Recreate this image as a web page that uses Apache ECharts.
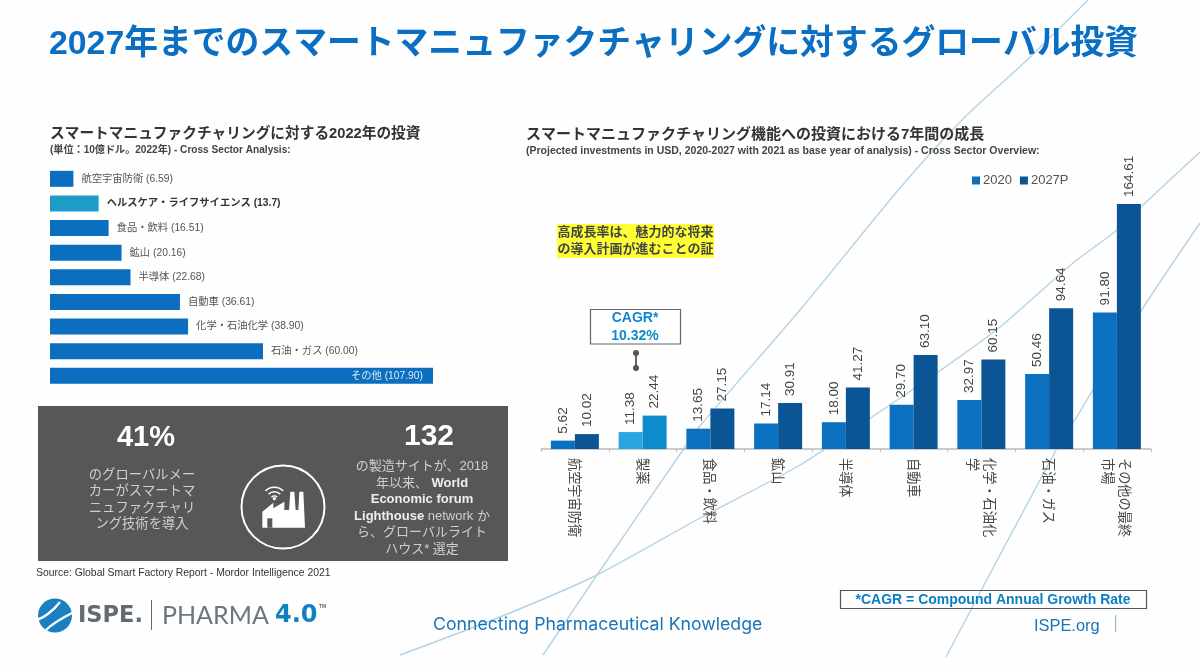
<!DOCTYPE html>
<html><head><meta charset="utf-8">
<style>html,body{margin:0;padding:0;background:#fefefe}#c{width:1200px;height:669px}</style>
<script src="https://cdn.jsdelivr.net/npm/echarts@6/dist/echarts.min.js"></script>
</head><body><div id="c"></div>
<script>
const leftCategories = ['航空宇宙防衛','ヘルスケア・ライフサイエンス','食品・飲料','鉱山','半導体','自動車','化学・石油化学','石油・ガス','その他'];
const leftValues = [6.59,13.7,16.51,20.16,22.68,36.61,38.90,60.00,107.90];
const leftValueText = ['6.59','13.7','16.51','20.16','22.68','36.61','38.90','60.00','107.90'];
const rightCategories = ['航空宇宙防衛','製薬','食品・飲料','鉱山','半導体','自動車','化学・石油化\n学','石油・ガス','その他の最終\n市場'];
const values2020 = [5.62,11.38,13.65,17.14,18.00,29.70,32.97,50.46,91.80];
const values2027 = [10.02,22.44,27.15,30.91,41.27,63.10,60.15,94.64,164.61];

const F = '"Liberation Sans","Noto Sans CJK JP",sans-serif';
const BLUE='#0b70bf', NAVY='#0b5595', TXT='#333333';
const t=(text,x,y,size,color,o={})=>({type:'text',z:o.z||10,style:{text,x,y,fill:color,
  font:(o.weight||'normal')+' '+size+'px '+(o.family||F),textAlign:o.align||'left',textVerticalAlign:'middle',
  lineHeight:o.lh,rich:o.rich}});
const line=(pts)=>({type:'polyline',z:-1,shape:{points:pts,smooth:0.25},style:{stroke:'#b4d4e6',lineWidth:1.4,fill:null}});
const fx=x=>255+x/3, fy=y=>480+y/3;
const wifi=[12,25,38].map(r=>({type:'arc',z:10,shape:{cx:fx(58),cy:fy(60),r:r/3,startAngle:-Math.PI*0.75,endAngle:-Math.PI*0.25},style:{stroke:'#fff',lineWidth:1.5,fill:null}}));
const rich132={n:{fill:'#cfcfcf',font:'13px '+F,lineHeight:16.6,align:'center'},b:{fill:'#eeeeee',font:'bold 13px '+F,lineHeight:16.6,align:'center'}};

const graphicEls=[
  line([[1088,0],[1027,60],[962,120],[900,188],[800,310],[699,427],[683,450],[597,575],[543,655]]),
  line([[400,655],[500,617],[597,575],[700,518],[800,465],[872,417],[941,370],[1000,327],[1073,263],[1117,230],[1143,205],[1200,152]]),
  line([[946,657],[1056,450],[1076,418],[1143,308],[1200,223]]),
  t('2027年までのスマートマニュファクチャリングに対するグローバル投資',49,45,33.8,'#0a6fc2',{weight:'bold'}),
  t('スマートマニュファクチャリングに対する2022年の投資',50,134,14.7,TXT,{weight:'bold'}),
  t('(単位：10億ドル。2022年) - Cross Sector Analysis:',50,150,10.1,'#444',{weight:'bold'}),
  t('スマートマニュファクチャリング機能への投資における7年間の成長',526,135,15,TXT,{weight:'bold'}),
  t('(Projected investments in USD, 2020-2027 with 2021 as base year of analysis) - Cross Sector Overview:',526,151,10.5,'#444',{weight:'bold'}),
  {type:'rect',z:1,shape:{x:38,y:406,width:470,height:155},style:{fill:'#575757'}},
  t('41%',146,438,29,'#ffffff',{weight:'bold',align:'center'}),
  t('のグローバルメー\nカーがスマートマ\nニュファクチャリ\nング技術を導入',142,500,13.3,'#cfcfcf',{align:'center',lh:16.5}),
  t('132',429,437,30,'#ffffff',{weight:'bold',align:'center'}),
  t('{n|の製造サイトが、2018}\n{n|年以来、}{b| World}\n{b|Economic forum}\n{b|Lighthouse}{n| network か}\n{n|ら、グローバルライト}\n{n|ハウス* 選定}',422,508,13,'#cfcfcf',{align:'center',rich:rich132}),
  {type:'circle',z:10,shape:{cx:283,cy:507,r:41.5},style:{stroke:'#fff',lineWidth:2,fill:null}},
  {type:'polygon',z:10,shape:{points:[[22,143],[22,95],[55,68],[55,85],[88,65],[88,90],[102,90],[106,35],[118,35],[122,90],[130,90],[133,35],[145,35],[150,143]].map(p=>[fx(p[0]),fy(p[1])])},style:{fill:'#fff'}},
  {type:'rect',z:11,shape:{x:fx(37),y:fy(115),width:5,height:9.4},style:{fill:'#575757'}},
  {type:'circle',z:10,shape:{cx:fx(58),cy:fy(56),r:1.6},style:{fill:'#fff'}},
  ...wifi,
  t('Source: Global Smart Factory Report - Mordor Intelligence 2021',36,573,10.4,TXT),
  {type:'circle',z:5,shape:{cx:55,cy:615.5,r:17},style:{fill:'#1a80c2'}},
  {type:'bezierCurve',z:6,shape:{x1:36,y1:620,x2:60,y2:602,cpx1:44,cpy1:618,cpx2:54,cpy2:610},style:{stroke:'#fefefe',lineWidth:2.4,fill:null}},
  {type:'bezierCurve',z:6,shape:{x1:46,y1:630,x2:74,y2:612,cpx1:52,cpy1:624,cpx2:64,cpy2:617},style:{stroke:'#fefefe',lineWidth:2.4,fill:null}},
  t('ISPE.',78,616,22.5,'#5f6b75',{weight:'bold',family:'"DejaVu Sans"'}),
  {type:'rect',z:6,shape:{x:151,y:600,width:1,height:30},style:{fill:'#5f6b75'}},
  t('PHARMA',162,616,25,'#6b7680',{family:'Lato,"Liberation Sans"'}),
  t('4.0',275,616,24,'#1180c2',{weight:'bold',family:'"DejaVu Sans"'}),
  t('TM',319,607,5,'#5f6b75',{weight:'bold'}),
  t('Connecting Pharmaceutical Knowledge',433,625,17.7,'#1a75b8',{family:'Inter,"Liberation Sans"'}),
  t('ISPE.org',1034,626,16.4,'#1a75b8'),
  {type:'rect',z:6,shape:{x:1115,y:615,width:1.2,height:17},style:{fill:'#8cc0e0'}},
  {type:'rect',z:6,shape:{x:840.5,y:590.5,width:306,height:18},style:{stroke:'#555',lineWidth:1.2,fill:null}},
  t('*CAGR = Compound Annual Growth Rate',993,600,14,'#0a7fc4',{weight:'bold',align:'center'}),
  {type:'rect',z:6,shape:{x:557,y:224,width:157,height:34},style:{fill:'#ffff33'}},
  t('高成長率は、魅力的な将来\nの導入計画が進むことの証',635.5,241,13,'#444',{weight:'bold',align:'center',lh:17}),
  {type:'rect',z:6,shape:{x:590.5,y:309.5,width:90,height:34.5},style:{stroke:'#666',lineWidth:1.2,fill:'#fff'}},
  t('CAGR*\n10.32%',635,327.5,14,'#1188cc',{weight:'bold',align:'center',lh:18}),
  {type:'line',z:6,shape:{x1:636,y1:353,x2:636,y2:368},style:{stroke:'#555',lineWidth:1.8}},
  {type:'circle',z:6,shape:{cx:636,cy:353,r:3},style:{fill:'#555'}},
  {type:'circle',z:6,shape:{cx:636,cy:368,r:3},style:{fill:'#555'}}
];

const chart=echarts.init(document.getElementById('c'),null,{renderer:'canvas'});
chart.setOption({
  animation:false,
  backgroundColor:'#fefefe',
  textStyle:{fontFamily:F},
  legend:{data:['2020','2027P'],left:967,top:169,itemWidth:8,itemHeight:8,itemGap:8,icon:'rect',
    textStyle:{fontSize:13,color:'#555',padding:[0,0,0,-2]}},
  grid:[{left:50,top:166.5,width:383,height:221.6},{left:541,top:196,width:609.75,height:253}],
  xAxis:[
    {gridIndex:0,type:'value',min:0,max:107.9,show:false},
    {gridIndex:1,type:'category',data:rightCategories,
     axisLine:{lineStyle:{color:'#bbbbbb',width:1.5}},
     axisTick:{show:true,length:3,lineStyle:{color:'#bbbbbb'}},
     axisLabel:{rotate:-90,margin:9,fontSize:13.2,color:'#444',lineHeight:17,fontFamily:'"Noto Sans CJK JP",sans-serif',interval:0}}
  ],
  yAxis:[
    {gridIndex:0,type:'category',inverse:true,data:leftCategories,show:false},
    {gridIndex:1,type:'value',min:0,max:170,show:false}
  ],
  series:[
    {type:'bar',name:'2022',xAxisIndex:0,yAxisIndex:0,barWidth:16,
     data:leftValues.map((v,i)=>{
       const d={value:v};
       if(i===1){d.itemStyle={color:'#1e9cc8'};d.label={color:'#333',fontWeight:'bold'};}
       if(i===8){d.label={position:'insideRight',color:'#dbe9f5',distance:10};}
       return d;}),
     itemStyle:{color:'#0b6ebe'},
     label:{show:true,position:'right',distance:8,fontSize:10.3,color:'#555',
       formatter:p=>leftCategories[p.dataIndex]+' ('+leftValueText[p.dataIndex]+')'}},
    {type:'bar',name:'2020',xAxisIndex:1,yAxisIndex:1,barWidth:24,barGap:0,
     data:values2020.map((v,i)=>i===1?{value:v,itemStyle:{color:'#2aa5e0'}}:v),
     itemStyle:{color:BLUE},
     label:{show:true,position:'top',distance:7,rotate:90,align:'left',verticalAlign:'middle',fontSize:13.5,color:'#444',
       formatter:p=>p.value.toFixed(2)}},
    {type:'bar',name:'2027P',xAxisIndex:1,yAxisIndex:1,barWidth:24,barGap:0,
     data:values2027.map((v,i)=>i===1?{value:v,itemStyle:{color:'#0e8bcb'}}:v),
     itemStyle:{color:NAVY},
     label:{show:true,position:'top',distance:7,rotate:90,align:'left',verticalAlign:'middle',fontSize:13.5,color:'#444',
       formatter:p=>p.value.toFixed(2)}}
  ],
  graphic:{elements:graphicEls}
});
</script></body></html>
